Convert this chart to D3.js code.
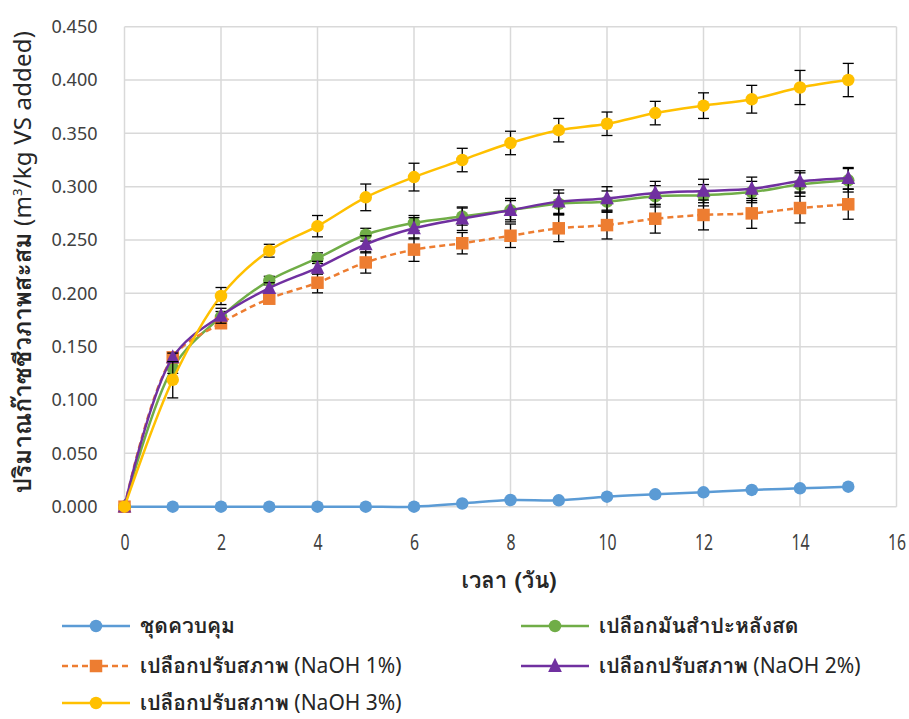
<!DOCTYPE html>
<html><head><meta charset="utf-8">
<script src="https://cdn.jsdelivr.net/npm/d3@7"></script>
<style>
body{margin:0;background:#fff;}
svg{font-family:"Tahoma","Loma","Waree","Garuda","Noto Sans Thai Looped","Noto Sans Thai","Noto Sans","DejaVu Sans",sans-serif;}
</style></head><body>
<svg id="c" width="909" height="719"></svg>
<script>
const days = [0,1,2,3,4,5,6,7,8,9,10,11,12,13,14,15];
const xTicks = [0,2,4,6,8,10,12,14,16];
const yTicks = [0,0.05,0.1,0.15,0.2,0.25,0.3,0.35,0.4,0.45];
const seriesThai = ["ชุดควบคุม","เปลือกมันสำปะหลังสด","เปลือกปรับสภาพ","เปลือกปรับสภาพ","เปลือกปรับสภาพ"];
const seriesLatin = ["",""," (NaOH 1%)"," (NaOH 2%)"," (NaOH 3%)"];
const control = [0,0,0,0,0,0,0,0.003,0.0063,0.006,0.0094,0.0116,0.0135,0.0157,0.0172,0.0188];
const fresh   = [0,0.130,0.178,0.212,0.233,0.255,0.266,0.272,0.278,0.284,0.286,0.291,0.292,0.295,0.302,0.306];
const naoh1   = [0,0.140,0.172,0.195,0.210,0.229,0.241,0.247,0.254,0.261,0.264,0.270,0.2735,0.275,0.280,0.2835];
const naoh2   = [0,0.140,0.179,0.205,0.224,0.246,0.261,0.270,0.278,0.286,0.289,0.294,0.296,0.298,0.305,0.308];
const naoh3   = [0,0.119,0.1975,0.240,0.263,0.290,0.309,0.325,0.341,0.353,0.359,0.369,0.376,0.382,0.393,0.400];
const errFresh = [0,0.005,0.005,0.004,0.005,0.006,0.007,0.008,0.009,0.010,0.010,0.010,0.010,0.010,0.011,0.011];
const errNaoh1 = [0,0.004,0.004,0.0045,0.0095,0.010,0.011,0.010,0.011,0.0125,0.013,0.0135,0.014,0.014,0.014,0.014];
const errNaoh2 = [0,0.004,0.007,0.005,0.006,0.008,0.010,0.011,0.011,0.011,0.011,0.011,0.011,0.011,0.010,0.010];
const errNaoh3 = [0,0.017,0.008,0.006,0.010,0.0125,0.013,0.011,0.011,0.011,0.011,0.011,0.012,0.013,0.016,0.0156];

const svg = d3.select("#c");
const x = d3.scaleLinear().domain([0,16]).range([124.5,896.5]);
const y = d3.scaleLinear().domain([0,0.45]).range([506.7,26.7]);

// grid
const g = svg.append("g");
g.selectAll("line.h").data(yTicks).join("line")
  .attr("x1",x(0)).attr("x2",x(16)).attr("y1",d=>y(d)).attr("y2",d=>y(d))
  .attr("stroke","#d9d9d9").attr("stroke-width",1.5);
g.selectAll("line.v").data(xTicks).join("line")
  .attr("y1",y(0)).attr("y2",y(0.45)).attr("x1",d=>x(d)).attr("x2",d=>x(d))
  .attr("stroke","#d9d9d9").attr("stroke-width",1.5);

// axes labels
const yAxis = d3.axisLeft(y).tickValues(yTicks).tickFormat(d3.format(".3f")).tickSize(0).tickPadding(27);
const ya = svg.append("g").attr("transform",`translate(${x(0)},0)`).call(yAxis);
ya.select(".domain").remove();
ya.selectAll("text").attr("font-size",18).attr("fill","#404040").attr("font-family","'Noto Sans',sans-serif");
const xAxis = d3.axisBottom(x).tickValues(xTicks).tickFormat(d3.format("d")).tickSize(0).tickPadding(0);
const xa = svg.append("g").attr("transform",`translate(0,${y(0)})`).call(xAxis);
xa.select(".domain").remove();
xa.selectAll("text").attr("font-size",22).attr("fill","#404040").attr("font-family","'Noto Sans',sans-serif")
  .attr("y",36).attr("dy","0.35em").attr("transform","scale(0.72,1)");

// titles
svg.append("text").attr("x",509).attr("y",588).attr("text-anchor","middle")
  .attr("font-size",22).attr("font-weight","bold").attr("fill","#262626").text("เวลา (วัน)");
const yt = svg.append("text").attr("transform",`translate(31,262) rotate(-90)`)
  .attr("text-anchor","middle").attr("font-size",21).attr("fill","#262626");
yt.append("tspan").attr("font-weight","bold").text("ปริมาณก๊าซชีวภาพสะสม");
yt.append("tspan").attr("font-family","'Noto Sans',sans-serif").text(" (m");
yt.append("tspan").attr("baseline-shift","super").attr("font-size",13).attr("font-family","'Noto Sans',sans-serif").text("3");
yt.append("tspan").attr("font-family","'Noto Sans',sans-serif").text("/kg VS added)");
const ytl = yt.node().getComputedTextLength();
if(ytl>0 && Math.abs(ytl-463)>4){
  const fs = Math.min(24, 21*463/ytl);
  yt.attr("font-size",fs);
  const l2 = yt.node().getComputedTextLength();
  if(l2<460) yt.attr("letter-spacing",(463-l2)/38);
}

const colors = ["#5B9BD5","#70AD47","#ED7D31","#7030A0","#FFC000"];
const shapes = ["circle","circle","square","triangle","circle"];
const dashes = [null,null,"6,4",null,null];
const vals = [control,fresh,naoh1,naoh2,naoh3];
const errs = [null,errFresh,errNaoh1,errNaoh2,errNaoh3];

const line = d3.line().x((d,i)=>x(days[i])).y(d=>y(d)).curve(d3.curveCatmullRom.alpha(0.5));

function marker(sel, shape, color, cx, cy, size){
  if(shape==="circle") sel.append("circle").attr("cx",cx).attr("cy",cy).attr("r",size/2).attr("fill",color);
  else if(shape==="square") sel.append("rect").attr("x",cx-size/2).attr("y",cy-size/2).attr("width",size).attr("height",size).attr("fill",color);
  else { const h=size*1.05, w=size*1.1;
    sel.append("path").attr("d",`M${cx},${cy-h*0.62}L${cx+w/2},${cy+h*0.45}L${cx-w/2},${cy+h*0.45}Z`).attr("fill",color); }
}

vals.forEach((v,s)=>{
  const sg = svg.append("g");
  sg.append("path").attr("d",line(v)).attr("fill","none").attr("stroke",colors[s])
    .attr("stroke-width",2.5).attr("stroke-dasharray",dashes[s]);
  if(errs[s]){
    const e = errs[s];
    days.forEach((d,i)=>{
      if(e[i]<=0) return;
      const xx=x(d), y1=y(v[i]+e[i]), y2=y(v[i]-e[i]);
      sg.append("line").attr("x1",xx).attr("x2",xx).attr("y1",y1).attr("y2",y2).attr("stroke","#000").attr("stroke-width",1.3);
      [y1,y2].forEach(yy=>sg.append("line").attr("x1",xx-5.5).attr("x2",xx+5.5).attr("y1",yy).attr("y2",yy).attr("stroke","#000").attr("stroke-width",1.3));
    });
  }
  days.forEach((d,i)=>marker(sg,shapes[s],colors[s],x(d),y(v[i]),12.5));
});

// legend
const legPos = [[62,626],[521,626],[62,666],[521,666],[62,703]];
seriesThai.forEach((n,s)=>{
  const [lx,ly]=legPos[s];
  const lg = svg.append("g");
  lg.append("line").attr("x1",lx).attr("x2",lx+68).attr("y1",ly).attr("y2",ly)
    .attr("stroke",colors[s]).attr("stroke-width",2.5).attr("stroke-dasharray",dashes[s]);
  marker(lg,shapes[s],colors[s],lx+34,ly,12.5);
  const t = lg.append("text").attr("x",lx+78).attr("y",ly).attr("dy","0.35em").attr("font-size",21)
    .attr("fill","#262626");
  t.append("tspan").attr("font-weight","bold").text(n);
  if(seriesLatin[s]) t.append("tspan").attr("font-family","'Noto Sans',sans-serif").text(seriesLatin[s]);
});
</script>
</body></html>
